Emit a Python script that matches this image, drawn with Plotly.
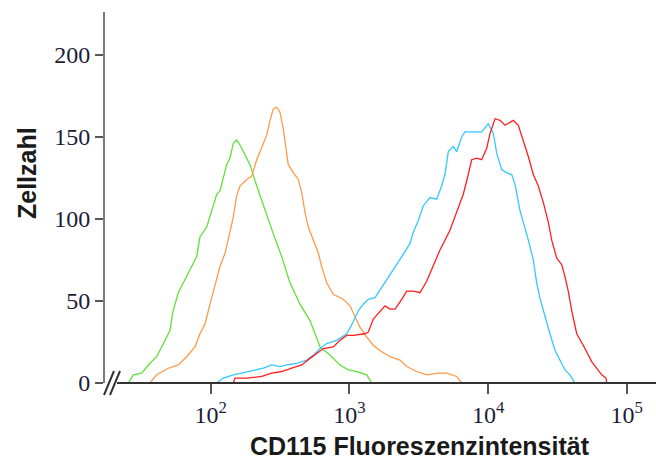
import plotly.graph_objects as go

# Flow cytometry histograms: cell count vs. CD115 fluorescence intensity
green_x = [25.5, 27.7, 31.8, 36.5, 40.8, 45.5, 50.9, 53.2, 58.4, 67.1, 72.9, 79.3, 83.7, 93.6,
           101.7, 110.5, 116.7, 130.4, 137.7, 145.6, 153.9, 162.6, 176.6, 191.9, 214.8, 246,
           282.5, 325, 373, 440.6, 520, 614, 724, 855, 982, 1130, 1334, 1449]
green_y = [0, 5, 6, 12, 16, 24, 32, 43, 55, 65, 71, 77, 89, 95,
           105, 115, 117, 133, 137, 146, 148, 145, 139, 133, 120, 105,
           91, 77, 61, 48, 38, 22, 17, 11, 8, 7, 5, 0]

orange_x = [36.5, 40.8, 49.5, 58.4, 67.1, 77.1, 83.7, 91, 98.9, 107.4, 116.7, 126.8, 133.9,
            145.6, 153.9, 162.6, 181.9, 197.7, 214.8, 239.4, 253.5, 267.9, 282.5, 299.2, 316,
            333.4, 362.4, 394.5, 428.5, 453, 478.6, 505.8, 549.6, 597, 631, 686, 765, 903,
            1010, 1096, 1191, 1334, 1486, 1710, 1963, 2317, 2588, 3055, 3606, 4374, 5035,
            5943, 6457]
orange_y = [0, 5, 9, 11, 16, 22, 30, 36, 48, 59, 71, 79, 87,
            101, 114, 120, 124, 126, 136, 146, 151, 160, 167, 168, 165,
            155, 133, 128, 124, 116, 104, 95, 87, 79, 71, 61, 54, 51,
            47, 40, 34, 28, 23, 19, 16, 14, 10, 7, 5, 6, 6,
            4, 0]

cyan_x = [110.5, 123.3, 145.6, 191.9, 239.4, 275.4, 316, 353, 417, 492, 549.6, 614, 686, 809,
          957, 1062, 1159, 1259, 1368, 1530, 1755, 2073, 2384, 2737, 2891, 3141, 3413, 3811,
          4256, 4624, 4887, 5164, 5610, 5943, 6457, 6812, 8995, 10020, 10910, 11530, 12530,
          13620, 14790, 15630, 16980, 18450, 19500, 21180, 22390, 23660, 25700, 27930, 30340,
          32960, 35810, 38900, 42360]
cyan_y = [0, 3, 5, 7, 9, 11, 10, 11, 12, 14, 17, 21, 24, 26,
          30, 37, 44, 48, 51, 52, 60, 69, 77, 85, 92, 99, 108, 113,
          112, 120, 127, 141, 144, 141, 150, 153, 153, 158, 152, 140, 130,
          128, 127, 121, 105, 95, 87, 75, 61, 51.5, 40, 30, 20,
          14, 8, 5, 0]

red_x = [145.6, 149.6, 181.9, 233.3, 275.4, 325, 383.7, 453, 520, 580.7, 648.6, 765, 855, 957,
         1067, 1294, 1368, 1486, 1663, 1807, 1963, 2133, 2384, 2588, 2891, 3228, 3606, 4027,
         4498, 5309, 5943, 6622, 7194, 7615, 8277, 8995, 9773, 10330, 11220, 12190, 13250,
         14000, 15210, 16520, 17950, 19500, 21180, 23010, 25000, 27160, 28750, 31260, 33960,
         35810, 37840, 40090, 43550, 48530, 55830, 60700, 65920, 70800, 71600]
red_y = [0, 3, 3, 4, 6, 7, 9, 11, 15, 18, 21, 22, 26, 29,
         29, 30, 31, 39, 44, 47, 45, 45, 51, 56, 56, 55, 62, 71,
         81, 93, 104, 115, 127, 136, 137, 136, 143, 152, 161, 160, 157,
         158, 160, 157, 148, 138, 127, 120, 110, 98, 87, 76, 72,
         65, 56, 44, 30, 23, 13, 9, 5, 3, 0]

y_ticks = [0, 50, 100, 150, 200]
x_ticks = [100, 1000, 10000, 100000]
x_ticktext = ["10<sup>2</sup>", "10<sup>3</sup>", "10<sup>4</sup>", "10<sup>5</sup>"]

x_title = "CD115 Fluoreszenzintensität"
y_title = "Zellzahl"

series = [
    (green_x, green_y, "#5fe03a"),
    (orange_x, orange_y, "#ff9a48"),
    (cyan_x, cyan_y, "#33c8ff"),
    (red_x, red_y, "#ff1f1f"),
]

fig = go.Figure()
for xs, ys, col in series:
    fig.add_trace(go.Scatter(x=xs, y=ys, mode="lines",
                             line=dict(color=col, width=1.3),
                             showlegend=False, hoverinfo="skip"))

W, H = 656, 464
L_M, R_M, T_M, B_M = 105, 0, 12, 81
pw, ph = W - L_M - R_M, H - T_M - B_M


def px(xp):
    return (xp - L_M) / pw


def py(yp):
    return (H - B_M - yp) / ph


tick_font = dict(family="Liberation Serif, Times New Roman, serif", size=24, color="#1c1c38")
title_font = dict(family="Liberation Sans, Arial, sans-serif", size=25, color="#1a1a1a")

fig.update_layout(
    width=W, height=H,
    margin=dict(l=L_M, r=R_M, t=T_M, b=B_M),
    paper_bgcolor="white", plot_bgcolor="white",
    xaxis=dict(type="log", range=[1.238, 5.2105], showgrid=False, zeroline=False,
               showline=False, ticks="outside", ticklen=10, tickwidth=2,
               tickcolor="#555555", tickvals=x_ticks, ticktext=x_ticktext,
               tickfont=tick_font),
    yaxis=dict(range=[0, 226], showgrid=False, zeroline=False, showline=True,
               linecolor="#7a7a7a", linewidth=2, ticks="outside", ticklen=8,
               tickwidth=2, tickcolor="#555555", tickvals=y_ticks,
               tickfont=tick_font),
    shapes=[
        # x axis baseline, starting after the axis break
        dict(type="line", xref="paper", yref="paper", x0=px(117), x1=1, y0=0, y1=0,
             line=dict(color="#333333", width=2)),
        # axis break marks
        dict(type="line", xref="paper", yref="paper", x0=px(104), y0=py(395),
             x1=px(114), y1=py(371), line=dict(color="#333333", width=2)),
        dict(type="line", xref="paper", yref="paper", x0=px(110), y0=py(395),
             x1=px(120), y1=py(371), line=dict(color="#333333", width=2)),
    ],
    annotations=[
        dict(text="<b>" + x_title + "</b>", xref="paper", yref="paper",
             x=px(420), y=py(446), xanchor="center", yanchor="middle",
             showarrow=False, font=title_font),
        dict(text="<b>" + y_title + "</b>", xref="paper", yref="paper",
             x=px(27), y=py(173), xanchor="center", yanchor="middle",
             textangle=-90, showarrow=False, font=title_font),
    ],
)

fig.write_html("out.html")
